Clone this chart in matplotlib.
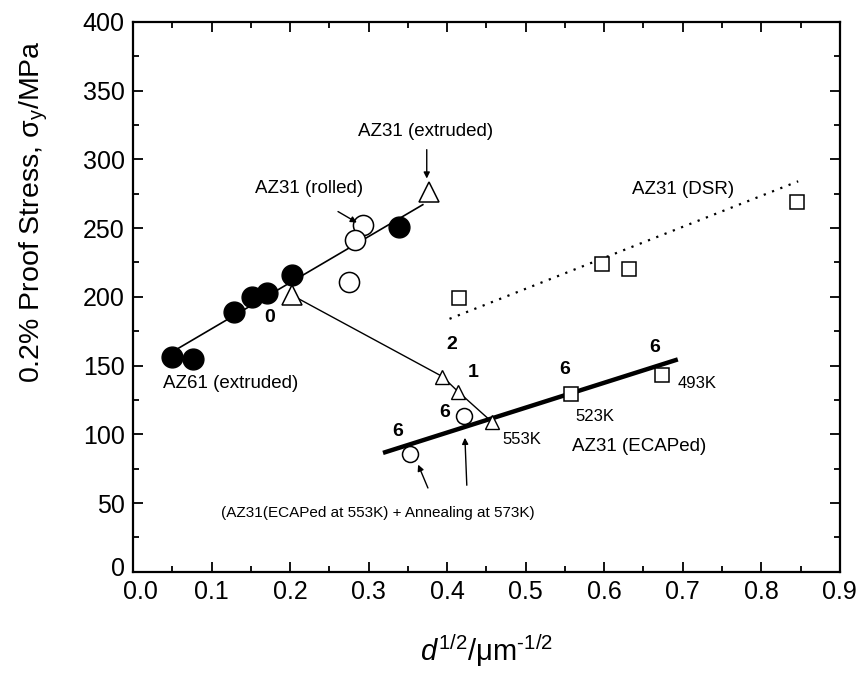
import matplotlib
matplotlib.use("Agg")
import matplotlib.pyplot as plt
import matplotlib.transforms as mtransforms
from matplotlib.ticker import MultipleLocator

plt.rcParams['font.family'] = ['Liberation Sans', 'DejaVu Sans']
plt.rcParams['mathtext.fontset'] = 'custom'
plt.rcParams['mathtext.rm'] = 'Liberation Sans'
plt.rcParams['mathtext.it'] = 'Liberation Sans:italic'

## Data
# AZ61 extruded, filled circles
az61_x = [0.050, 0.076, 0.129, 0.151, 0.170, 0.203, 0.339]
az61_y = [156, 155, 189, 200, 203, 216, 251]
# AZ31 rolled, open circles
rolled_x = [0.293, 0.283, 0.275]
rolled_y = [252, 241, 211]
# AZ31 extruded, big triangles (0 pass and extruded)
ext_x = [0.203, 0.377]
ext_y = [201, 276]
# AZ31 ECAPed at 553K, small triangles (2, 1, 6 passes)
ecap_tri_x = [0.394, 0.414, 0.457]
ecap_tri_y = [142, 131, 109]
# AZ31 ECAPed at 523K / 493K, squares
ecap_sq_x = [0.558, 0.673]
ecap_sq_y = [129, 143]
# ECAPed + annealing, small open circles
anneal_x = [0.353, 0.421]
anneal_y = [86, 113]
# AZ31 DSR, squares
dsr_x = [0.415, 0.597, 0.632, 0.845]
dsr_y = [199, 224, 220, 269]

# fitted lines
fit_az61_x = [0.056, 0.369]
fit_az61_y = [162, 267]
fit_ecap_x = [0.321, 0.691]
fit_ecap_y = [87, 154]
fit_dsr_x = [0.403, 0.847]
fit_dsr_y = [184, 284]

x_ticks = [0.0, 0.1, 0.2, 0.3, 0.4, 0.5, 0.6, 0.7, 0.8, 0.9]
y_ticks = [0, 50, 100, 150, 200, 250, 300, 350, 400]

fig = plt.figure(figsize=(8.64, 6.8), dpi=100)
ax = fig.add_axes([0.154, 0.159, 0.818, 0.809])

## Lines
ax.plot(fit_az61_x, fit_az61_y, color='black', lw=1.2, zorder=1)
ax.plot([ext_x[0]] + ecap_tri_x, [ext_y[0]] + ecap_tri_y, color='black', lw=1.0, zorder=1)
ax.plot(fit_ecap_x, fit_ecap_y, color='black', lw=3.2, zorder=1)
ax.plot(fit_dsr_x, fit_dsr_y, color='black', lw=1.6, ls=(0, (1, 3)), zorder=1)

## Markers
ax.plot(az61_x, az61_y, 'o', ms=15, mfc='black', mec='black', zorder=3)
ax.plot(rolled_x, rolled_y, 'o', ms=14.5, mfc='white', mec='black', mew=1.1, zorder=3)
ax.plot(ext_x, ext_y, '^', ms=14, mfc='white', mec='black', mew=1.1, zorder=3)
ax.plot(ecap_tri_x, ecap_tri_y, '^', ms=9.5, mfc='white', mec='black', mew=1.0, zorder=3)
ax.plot(ecap_sq_x, ecap_sq_y, 's', ms=10.5, mfc='white', mec='black', mew=1.1, zorder=3)
ax.plot(anneal_x, anneal_y, 'o', ms=11.5, mfc='white', mec='black', mew=1.1, zorder=3)
ax.plot(dsr_x, dsr_y, 's', ms=10.5, mfc='white', mec='black', mew=1.1, zorder=3)

## Text labels
lab = dict(fontsize=13.5)
num = dict(fontsize=14, fontweight='bold')
arr = dict(arrowstyle='-|>', color='black', lw=1.0, mutation_scale=9, shrinkA=0, shrinkB=0)

ax.text(0.372, 320, 'AZ31 (extruded)', ha='center', va='center', **lab)
ax.annotate('', xy=(0.374, 286), xytext=(0.374, 307), arrowprops=arr)
ax.text(0.224, 279, 'AZ31 (rolled)', ha='center', va='center', **lab)
ax.annotate('', xy=(0.285, 254), xytext=(0.261, 262), arrowprops=arr)
ax.text(0.174, 185, '0', ha='center', va='center', **num)
ax.text(0.038, 137, 'AZ61 (extruded)', ha='left', va='center', **lab)
ax.text(0.635, 278, 'AZ31 (DSR)', ha='left', va='center', **lab)

ax.text(0.406, 165, '2', ha='center', va='center', **num)
ax.text(0.433, 145, '1', ha='center', va='center', **num)
ax.text(0.397, 116, '6', ha='center', va='center', **num)
ax.text(0.337, 102, '6', ha='center', va='center', **num)
ax.text(0.550, 147, '6', ha='center', va='center', **num)
ax.text(0.664, 163, '6', ha='center', va='center', **num)

ax.text(0.470, 96, '553K', ha='left', va='center', fontsize=12)
ax.text(0.563, 113, '523K', ha='left', va='center', fontsize=12)
ax.text(0.694, 137, '493K', ha='left', va='center', fontsize=12)
ax.text(0.559, 91, 'AZ31 (ECAPed)', ha='left', va='center', **lab)

ax.text(0.312, 43, '(AZ31(ECAPed at 553K) + Annealing at 573K)',
        ha='center', va='center', fontsize=11)
ax.annotate('', xy=(0.363, 78), xytext=(0.3755, 61), arrowprops=arr)
ax.annotate('', xy=(0.4226, 97.5), xytext=(0.425, 63), arrowprops=arr)

## Axes
ax.set_xlim(0, 0.9)
ax.set_ylim(0, 400)
ax.set_xticks(x_ticks)
ax.set_xticklabels(['%.1f' % v for v in x_ticks])
ax.set_yticks(y_ticks)
ax.set_yticklabels([str(v) for v in y_ticks])
ax.xaxis.set_minor_locator(MultipleLocator(0.05))
ax.yaxis.set_minor_locator(MultipleLocator(25))
ax.tick_params(which='both', direction='in', top=True, right=True, width=1.3)
ax.tick_params(which='major', length=7, labelsize=18, pad=6)
ax.tick_params(which='minor', length=4)
for s in ax.spines.values():
    s.set_linewidth(1.6)

# nudge the two labels at the origin apart, like the original
ax.xaxis.get_major_ticks()[0].label1.set_transform(
    ax.xaxis.get_major_ticks()[0].label1.get_transform()
    + mtransforms.ScaledTranslation(0.07, 0, fig.dpi_scale_trans))
ax.yaxis.get_major_ticks()[0].label1.set_transform(
    ax.yaxis.get_major_ticks()[0].label1.get_transform()
    + mtransforms.ScaledTranslation(0, 0.05, fig.dpi_scale_trans))

ax.set_xlabel(r'$d^{\mathregular{1/2}}$/μm$^{\text{-1/2}}$', fontsize=21, labelpad=20)
ax.set_ylabel(r'0.2% Proof Stress, σ$_\mathregular{y}$/MPa', fontsize=20.5)
ax.yaxis.set_label_coords(-0.118, 0.655)

fig.savefig('out.png', dpi=100)
